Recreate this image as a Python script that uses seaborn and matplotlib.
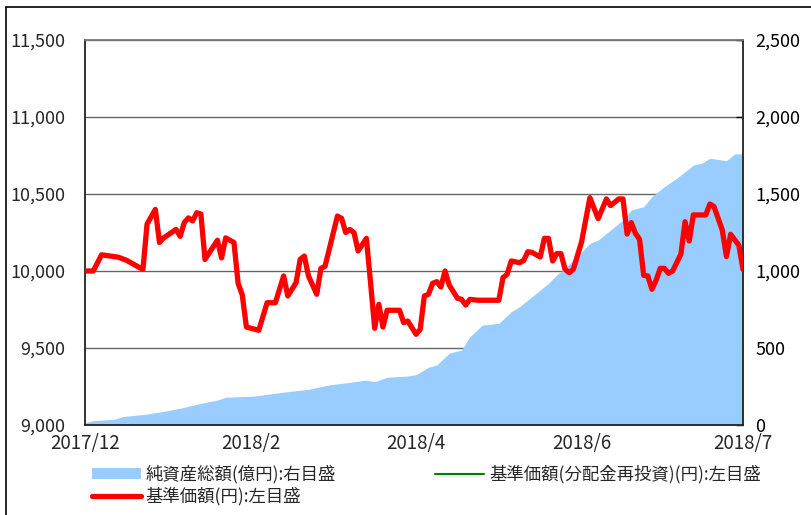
import matplotlib
matplotlib.use("Agg")
import matplotlib.pyplot as plt
import seaborn as sns
from matplotlib.lines import Line2D
from matplotlib.patches import Patch

# business-day index (0 .. 159) and tick labels
tick_pos = [0, 40, 80, 120, 159]
tick_labels = ["2017/12", "2018/2", "2018/4", "2018/6", "2018/7"]

# 基準価額 (円) - vertices
nav_idx = [0, 2, 4, 8, 9, 10, 14, 15, 17, 18, 19, 22, 23, 24, 25, 26, 27, 28, 29,
           32, 33, 34, 36, 37, 38, 39, 42, 44, 46, 48, 49, 51, 52, 53, 54, 56, 57,
           58, 61, 62, 63, 64, 65, 66, 68, 69, 70, 71, 72, 73, 76, 77, 78, 80, 81,
           82, 83, 84, 85, 86, 87, 88, 90, 91, 92, 93, 95, 100, 101, 102, 103, 105,
           106, 107, 108, 110, 111, 112, 113, 114, 115, 116, 117, 118, 120, 122,
           124, 126, 127, 129, 130, 131, 132, 133, 134, 135, 136, 137, 138, 139,
           140, 141, 142, 144, 145, 146, 147, 150, 151, 152, 154, 155, 156, 158, 159]
nav = [10000, 10000, 10105, 10090, 10080, 10070, 10010, 10305, 10400, 10185, 10215,
       10270, 10225, 10315, 10345, 10325, 10378, 10370, 10075, 10200, 10085, 10215,
       10185, 9920, 9845, 9636, 9615, 9794, 9794, 9968, 9838, 9924, 10076, 10097,
       9968, 9849, 10017, 10030, 10357, 10342, 10250, 10270, 10249, 10130, 10212,
       9924, 9628, 9784, 9636, 9745, 9745, 9665, 9675, 9589, 9621, 9838, 9849, 9920,
       9931, 9896, 10000, 9909, 9823, 9816, 9779, 9816, 9810, 9810, 9957, 9978,
       10065, 10054, 10068, 10125, 10121, 10091, 10212, 10212, 10065, 10113, 10113,
       10011, 9989, 10011, 10190, 10476, 10340, 10468, 10425, 10468, 10468, 10240,
       10314, 10245, 10206, 9972, 9968, 9881, 9940, 10017, 10017, 9985, 10000,
       10110, 10320, 10195, 10364, 10364, 10435, 10418, 10265, 10094, 10238, 10167,
       10010]
# 基準価額(分配金再投資) - no distributions, identical to nav
nav_reinv = list(nav)

# 純資産総額 (億円)
aum_idx = [0, 2, 7, 9, 15, 20, 24, 28, 32, 34, 41, 47, 54, 59, 64, 68, 70, 73, 78,
           80, 83, 85, 88, 91, 93, 96, 100, 103, 105, 108, 110, 112, 114, 116, 120,
           122, 124, 128, 130, 132, 135, 137, 140, 143, 145, 147, 149, 151, 155, 157, 159]
aum = [15, 28, 37, 54, 71, 93, 115, 141, 162, 180, 188, 210, 232, 260, 277, 292, 281,
       310, 318, 327, 375, 390, 466, 487, 573, 649, 660, 736, 768, 833, 877, 920, 974,
       1018, 1125, 1180, 1201, 1288, 1331, 1396, 1418, 1483, 1548, 1602, 1645, 1688,
       1699, 1732, 1716, 1760, 1760]

labels = ["純資産総額(億円):右目盛", "基準価額(円):左目盛", "基準価額(分配金再投資)(円):左目盛"]

sns.set_style("white")
plt.rcParams["font.family"] = ["Noto Sans CJK JP", "DejaVu Sans"]

fig = plt.figure(figsize=(8.12, 5.15), dpi=100)
ax = fig.add_axes([85 / 812, 1 - 425 / 515, 658 / 812, 385 / 515])
ax2 = ax.twinx()

# area on the right axis, kept behind the price lines
ax.set_zorder(2)
ax2.set_zorder(1)
ax.patch.set_visible(False)
ax2.patch.set_visible(True)
ax2.patch.set_facecolor("white")

ax2.fill_between(aum_idx, 0, aum, color="#99CCFF", linewidth=0, zorder=2)
ax2.set_ylim(0, 2500)
ax2.set_yticks(range(0, 2501, 500))
ax2.set_yticklabels([f"{v:,}" for v in range(0, 2501, 500)])
ax2.grid(axis="y", color="#666666", linewidth=1.0)
ax2.set_axisbelow(True)
ax2.tick_params(axis="y", direction="in", length=5, width=1, pad=9,
                labelsize=13, colors="black")
for s in ax2.spines.values():
    s.set_visible(False)

sns.lineplot(x=nav_idx, y=nav_reinv, ax=ax, color="green", linewidth=1.5, zorder=3)
sns.lineplot(x=nav_idx, y=nav, ax=ax, color="#FF0000", linewidth=3.8, zorder=4)

ax.set_xlim(0, 159)
ax.set_ylim(9000, 11500)
ax.set_yticks(range(9000, 11501, 500))
ax.set_yticklabels([f"{v:,}" for v in range(9000, 11501, 500)])
ax.set_xticks(tick_pos)
ax.set_xticklabels(tick_labels)
ax.tick_params(axis="y", length=0, pad=14, labelsize=13)
ax.tick_params(axis="x", direction="in", length=5, width=1, pad=6, labelsize=13.5)
ax.grid(False)
for name in ["left", "bottom", "right"]:
    ax.spines[name].set_color("#222222")
    ax.spines[name].set_linewidth(1.3)
    ax.spines[name].set_visible(True)
ax.spines["top"].set_color("#777777")
ax.spines["top"].set_linewidth(1.3)

# outer frame lines of the original image
fig.add_artist(Line2D([6 / 812, 6 / 812], [0, 1 - 7 / 515], color="black", linewidth=1.2))
fig.add_artist(Line2D([6 / 812, 1], [1 - 7 / 515, 1 - 7 / 515], color="black", linewidth=1.2))

handles = [Patch(facecolor="#99CCFF", edgecolor="none"),
           Line2D([], [], color="#FF0000", linewidth=3.8),
           Line2D([], [], color="green", linewidth=1.5)]
fig.legend(handles, labels, ncol=2, loc="upper left", bbox_to_anchor=(92 / 812, 1 - 465 / 515),
           frameon=False, fontsize=12.5, handlelength=2.8, handleheight=0.6,
           handletextpad=0.3, columnspacing=5.7, labelspacing=0.2,
           borderpad=0, borderaxespad=0)

fig.savefig("out.png", dpi=100)
plt.close(fig)
